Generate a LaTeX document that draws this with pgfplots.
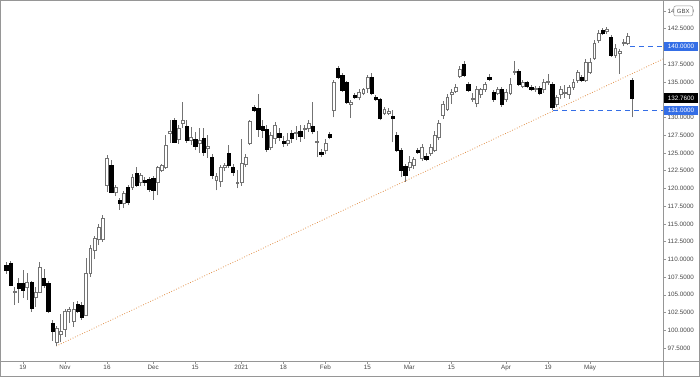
\documentclass[border=0pt]{standalone}
\usepackage{pgfplots}
\pgfplotsset{compat=1.18}
\usepackage{pgfplotstable}
\usepackage{fontspec}
\setmainfont{Liberation Sans}
\definecolor{wickc}{RGB}{115,115,115}
\definecolor{lvlblue}{RGB}{52,110,230}
\definecolor{trendc}{RGB}{225,145,75}
\definecolor{framec}{RGB}{150,150,150}
\definecolor{labc}{RGB}{70,70,70}
\pgfmathsetmacro\ky{361/(146.55-95.67)}
\pgfplotstableread{
i o h l c
-4 109.2 109.6 108.0 108.5
-3 109.5 109.7 106.2 106.3
-2 105.3 106.1 103.6 105.5
-1 106.7 107.3 103.9 106.0
0 106.7 108.5 104.6 105.7
1 106.0 108.1 104.3 106.8
2 106.8 107.0 102.6 103.1
3 104.7 106.1 103.3 105.4
4 105.4 109.6 105.2 108.9
5 107.4 108.7 106.0 106.4
6 106.7 106.9 102.4 102.7
7 101.0 101.4 98.5 99.8
8 98.3 100.6 97.8 100.3
9 99.5 102.3 98.3 99.9
10 100.2 103.0 99.1 102.7
11 102.7 103.3 101.0 103.0
12 101.2 104.0 100.5 103.0
13 103.7 104.1 102.4 102.7
14 103.6 104.0 101.5 101.9
15 102.1 110.2 102.0 108.1
16 108.0 112.0 107.5 111.5
17 111.3 113.3 110.0 113.0
18 112.8 115.0 112.0 114.5
19 112.8 116.2 112.5 115.8
20 120.4 124.7 119.5 124.2
21 123.2 124.0 119.3 119.5
22 119.5 120.5 118.9 120.1
23 118.4 118.6 117.0 117.9
24 117.9 119.6 117.2 119.3
25 120.2 120.5 117.6 118.1
26 120.2 122.0 119.8 121.5
27 122.2 123.0 120.2 120.5
28 120.8 122.1 120.4 121.8
29 121.1 121.6 120.3 120.8
30 121.3 121.6 119.5 119.9
31 121.4 121.7 118.4 119.8
32 120.8 123.2 119.0 123.0
33 122.6 123.5 122.3 123.2
34 123.0 127.5 122.7 126.1
35 127.7 129.6 126.4 128.1
36 129.6 129.9 126.4 126.5
37 126.9 129.0 126.3 128.5
38 129.2 132.2 128.5 129.6
39 128.7 129.6 126.4 126.8
40 126.8 128.6 126.1 127.2
41 127.0 127.9 125.4 126.0
42 126.4 128.5 125.0 126.8
43 127.1 128.5 124.6 125.1
44 125.7 127.5 124.3 125.9
45 124.4 124.8 121.3 121.9
46 121.2 122.1 119.7 121.7
47 121.0 123.3 120.2 123.0
48 122.9 123.6 122.5 123.2
49 125.0 126.1 122.9 123.3
50 123.0 123.4 121.8 122.3
51 120.7 122.6 120.0 120.9
52 120.9 126.9 120.4 123.6
53 123.4 124.8 123.0 124.4
54 126.4 129.7 126.1 129.4
55 131.5 131.8 130.8 131.05
56 131.3 133.3 127.3 128.4
57 128.8 129.7 127.1 128.2
58 128.4 129.0 125.1 125.5
59 125.8 128.0 125.4 127.5
60 127.1 129.3 126.3 128.9
61 127.8 128.5 126.7 127.2
62 126.7 127.4 125.8 126.4
63 126.4 127.8 126.0 126.8
64 127.8 128.2 126.4 127.1
65 127.7 128.8 126.8 127.9
66 128.0 128.9 126.6 127.4
67 128.3 129.0 127.0 128.5
68 128.4 129.6 128.0 129.2
69 128.8 132.2 127.6 128.1
70 126.5 128.1 124.4 126.7
71 125.1 125.5 124.4 124.8
72 125.4 127.0 124.8 126.4
73 127.7 128.0 126.9 127.2
74 131.0 135.3 130.0 134.9
75 137.0 137.3 135.4 135.7
76 136.0 136.3 133.6 133.9
77 134.9 135.2 131.9 132.2
78 131.9 132.5 129.9 132.2
79 133.2 133.5 132.6 132.9
80 132.8 134.0 132.4 133.6
81 133.4 134.2 133.1 133.9
82 134.1 136.0 133.5 135.6
83 135.6 136.2 133.1 133.4
84 132.9 133.2 132.3 132.6
85 132.5 132.8 129.6 129.9
86 130.6 131.4 130.3 131.1
87 130.6 131.3 130.3 130.8
88 130.2 131.0 126.5 129.9
89 127.5 128.0 125.1 125.4
90 125.4 125.7 121.6 122.6
91 123.1 123.4 120.9 121.9
92 122.9 124.6 122.5 123.7
93 123.2 124.4 122.7 124.1
94 125.4 125.7 124.9 125.1
95 124.3 126.2 123.9 125.8
96 124.6 125.0 123.8 124.1
97 125.0 126.3 124.6 125.8
98 125.4 128.1 125.1 127.5
99 127.2 129.7 126.8 129.2
100 130.3 132.3 129.8 131.8
101 131.2 133.3 130.9 132.8
102 133.3 134.0 131.9 133.5
103 133.7 134.7 133.4 134.3
104 135.8 137.3 135.5 136.8
105 137.5 137.9 135.7 136.0
106 134.7 135.0 133.6 133.9
107 132.5 133.4 132.2 132.7
108 132.0 134.4 131.4 134.0
109 133.2 134.2 132.8 133.9
110 133.9 135.0 133.6 134.6
111 135.7 136.1 135.1 135.4
112 133.6 133.9 132.2 132.5
113 133.4 134.3 133.1 134.0
114 134.0 134.3 131.5 131.8
115 132.5 134.0 132.2 133.6
116 133.4 135.6 133.1 134.6
117 136.3 137.9 136.0 136.5
118 136.5 136.8 134.4 134.7
119 134.4 135.3 134.1 135.0
120 134.9 135.2 134.1 134.4
121 134.3 134.6 133.7 134.0
122 133.9 134.4 133.6 134.1
123 134.1 134.4 133.1 133.4
124 133.9 135.4 133.5 135.0
125 134.9 136.1 134.6 135.1
126 134.7 135.0 131.0 131.5
127 131.8 133.1 131.4 132.8
128 133.2 134.4 132.6 134.0
129 133.4 134.5 132.8 133.6
130 133.2 134.6 132.6 134.2
131 134.3 135.4 133.9 135.0
132 135.3 136.7 134.9 136.3
133 135.7 136.0 135.0 135.3
134 135.3 138.2 135.0 137.7
135 136.4 138.4 136.1 137.8
136 138.4 140.9 138.1 140.5
137 140.9 142.3 140.5 141.9
138 142.3 142.6 141.6 141.9
139 142.2 142.8 141.7 142.4
140 141.3 141.6 138.5 138.8
141 138.8 140.3 138.4 139.8
142 139.1 139.6 136.1 139.3
143 140.4 141.0 140.0 140.6
144 140.5 141.9 140.2 141.5
145 135.3 135.5 130.0 132.76
}\candles
\begin{document}
\begin{tikzpicture}
\useasboundingbox (0,0) rectangle (700pt,377pt);
\begin{axis}[
  at={(0pt,16pt)}, anchor=south west,
  scale only axis, width=663pt, height=361pt,
  xmin=-5.476, xmax=152.38, ymin=95.67, ymax=146.55,
  clip=false,
  axis line style={framec, line width=0.8pt},
  xtick={0,10,20,31,41,52,62,72,82,92,102,115,125,135},
  xticklabels={19,Nov,16,Dec,15,2021,18,Feb,15,Mar,15,Apr,19,May},
  xtick pos=bottom, ytick pos=right, tick align=outside,
  major tick length=3pt,
  tick style={framec, line width=0.6pt},
  ytick={97.5,100,...,145},
  /pgf/number format/assume math mode=true,
  yticklabel style={/pgf/number format/fixed, /pgf/number format/fixed zerofill, /pgf/number format/precision=4,
     font=\fontsize{6.3}{7}\selectfont, text=labc, inner sep=1.5pt},
  xticklabel style={font=\fontsize{6.3}{7}\selectfont, text=labc, inner sep=0pt, anchor=north, yshift=-1pt},
]
\addplot[trendc, line width=0.8pt, dash pattern=on 0.8pt off 1.8pt] coordinates {(7.9,97.78) (152.38,138.23)};
\addplot[lvlblue, line width=1.1pt, dash pattern=on 5pt off 4pt] coordinates {(144.5,140) (152.38,140)};
\addplot[lvlblue, line width=1.1pt, dash pattern=on 5pt off 4pt] coordinates {(126.2,131) (152.38,131)};
\addplot[scatter, only marks, mark=text, text mark={},
  visualization depends on={\thisrow{o}\as\vo},
  visualization depends on={\thisrow{h}\as\vh},
  visualization depends on={\thisrow{l}\as\vl},
  visualization depends on={\thisrow{c}\as\vc},
  scatter/@pre marker code/.code={%
    \pgfkeys{/pgf/fpu=false}%
    \pgfmathsetmacro\yh{(\vh-\vo)*\ky}%
    \pgfmathsetmacro\yl{(\vl-\vo)*\ky}%
    \pgfmathsetmacro\yc{(\vc-\vo)*\ky}%
    \draw[wickc, line width=0.7pt] (0pt,\yl pt) -- (0pt,\yh pt);
    \ifdim\vc pt<\vo pt
      \fill[black] (-1.6pt,0pt) rectangle (1.6pt,\yc pt);
    \else
      \filldraw[draw=wickc, fill=white, line width=0.6pt] (-1.4pt,0pt) rectangle (1.4pt,\yc pt);
    \fi
  },
  scatter/@post marker code/.code={},
] table[x=i, y=o] {\candles};
\node[fill=lvlblue, text=white, anchor=west, inner sep=0pt, minimum width=34pt, minimum height=9.5pt, font=\fontsize{6.3}{7}\selectfont, xshift=0.8pt] at (axis cs:152.38,140) {140.0000};
\node[fill=lvlblue, text=white, anchor=west, inner sep=0pt, minimum width=34pt, minimum height=9.5pt, font=\fontsize{6.3}{7}\selectfont, xshift=0.8pt] at (axis cs:152.38,131) {131.0000};
\node[fill=black, text=white, anchor=west, inner sep=0pt, minimum width=34pt, minimum height=9.5pt, font=\fontsize{6.3}{7}\selectfont, xshift=0.8pt] at (axis cs:152.38,132.76) {132.7600};
\node[draw=framec, fill=white, rounded corners=2pt, inner xsep=2pt, inner ysep=0pt, minimum height=10pt, minimum width=19pt, line width=0.5pt, font=\fontsize{6}{7}\selectfont, text=labc] at (axis cs:157.2,145) {GBX};
\end{axis}
\draw[framec, line width=0.8pt] (0pt,16pt) -- (700pt,16pt);
\draw[framec, line width=0.8pt] (663pt,0pt) -- (663pt,377pt);
\draw[framec, line width=0.8pt] (0.4pt,0.4pt) rectangle (699.6pt,376.6pt);
\end{tikzpicture}
\end{document}
